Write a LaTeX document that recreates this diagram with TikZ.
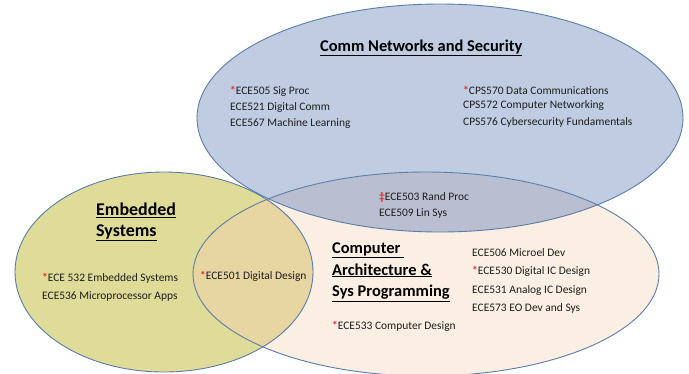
\documentclass[tikz,border=0pt]{standalone}
\usepackage{fontspec}
\setmainfont{Carlito}
\definecolor{bluefill}{HTML}{C0CCE2}
\definecolor{yelfill}{HTML}{DFDB98}
\definecolor{orafill}{HTML}{FBEEE3}
\definecolor{bofill}{HTML}{B9BFD1}
\definecolor{yofill}{HTML}{E8D6A2}
\definecolor{edge}{HTML}{5A7DAA}
\definecolor{txt}{HTML}{1E1E1E}
\definecolor{star}{HTML}{E8262B}
\newcommand{\rstar}{\textcolor{star}{\textbf{*}}}
\begin{document}
\begin{tikzpicture}[x=1bp,y=-1bp,
  course/.style={anchor=west, inner sep=0pt, text=txt, font=\fontsize{11.5}{13}\selectfont},
  ttl/.style={anchor=west, inner sep=0pt, text=black, align=left, font=\fontsize{16.5}{22}\bfseries\selectfont},
  ttlbig/.style={anchor=west, inner sep=0pt, text=black, align=left, font=\fontsize{18}{21}\bfseries\selectfont},
  outline/.style={draw=edge, line width=0.9bp}]
\useasboundingbox (0,0) rectangle (689,373);
% fills
\fill[bluefill] (440,118) ellipse [x radius=243, y radius=114];
\fill[orafill] (426,274) ellipse [x radius=233, y radius=102];
\fill[yelfill] (164,272) ellipse [x radius=149, y radius=100];
\begin{scope}
  \clip (440,118) ellipse [x radius=243, y radius=114];
  \fill[bofill] (426,274) ellipse [x radius=233, y radius=102];
\end{scope}
\begin{scope}
  \clip (164,272) ellipse [x radius=149, y radius=100];
  \fill[yofill] (426,274) ellipse [x radius=233, y radius=102];
\end{scope}
% outlines
\draw[outline] (164,272) ellipse [x radius=149, y radius=100];
\draw[outline] (426,274) ellipse [x radius=233, y radius=102];
\draw[outline] (440,118) ellipse [x radius=243, y radius=114];
% titles
\node[ttl] (tcomm) at (320,48) {\underline{Comm Networks and Security}};
\node[ttlbig] (temb) at (96,222) {\underline{Embedded}\\\underline{Systems}};
\node[ttl] (tcomp) at (332,272) {\underline{Computer\ }\\\underline{Architecture \&}\\\underline{Sys Programming}};
% comm courses
\node[course] (c505) at (230,91) {\rstar ECE505 Sig Proc};
\node[course] (c521) at (230,108) {ECE521 Digital Comm};
\node[course] (c567) at (230,124) {ECE567 Machine Learning};
\node[course] (c570) at (463,90) {\rstar CPS570 Data Communications};
\node[course] (c572) at (463,106) {CPS572 Computer Networking};
\node[course] (c576) at (463,122) {CPS576 Cybersecurity Fundamentals};
% shared comm / arch
\node[course] (c503) at (379,197) {\textcolor{star}{\textbf{‡}}ECE503 Rand Proc};
\node[course] (c509) at (379,213) {ECE509 Lin Sys};
% embedded
\node[course] (c532) at (42,278) {\rstar ECE 532 Embedded Systems};
\node[course] (c536) at (42,296) {ECE536 Microprocessor Apps};
\node[course] (c501) at (200,276) {\rstar ECE501 Digital Design};
% architecture
\node[course] (c506) at (472,253) {ECE506 Microel Dev};
\node[course] (c530) at (472,271) {\rstar ECE530 Digital IC Design};
\node[course] (c531) at (472,290) {ECE531 Analog IC Design};
\node[course] (c573) at (472,308) {ECE573 EO Dev and Sys};
\node[course] (c533) at (332,326) {\rstar ECE533 Computer Design};
\end{tikzpicture}
\end{document}
